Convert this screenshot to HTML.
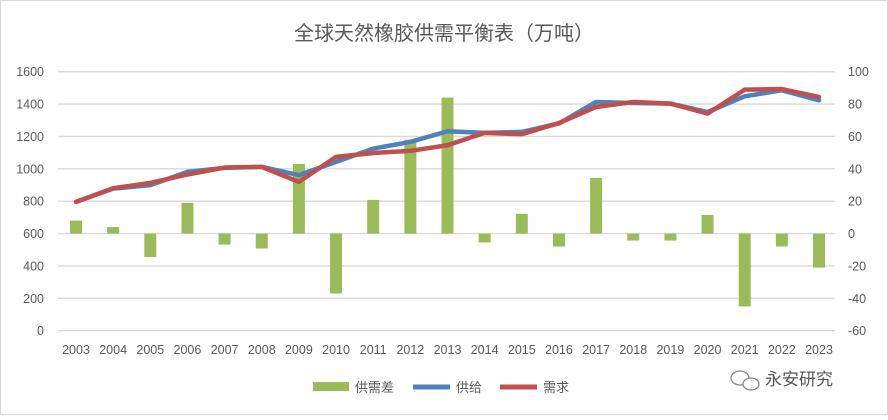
<!DOCTYPE html>
<html><head><meta charset="utf-8"><style>
html,body{margin:0;padding:0;background:#fff;}
svg text{font-family:"Liberation Sans","Noto Sans CJK SC",sans-serif;fill:#595959;}
</style></head><body>
<svg id="chart" width="888" height="415" viewBox="0 0 888 415" xmlns="http://www.w3.org/2000/svg">
<rect x="0.5" y="0.5" width="887" height="414" fill="#fff" stroke="#d9d9d9"/>
<text x="444" y="40" text-anchor="middle" font-size="20" style="font-family:'Liberation Sans','Noto Sans CJK SC',sans-serif">全球天然橡胶供需平衡表（万吨）</text>
<g id="grid"></g><g id="bars"></g><g id="lines"></g><g id="axes"></g>
<g>
<rect x="313" y="382" width="36" height="9" fill="#9bbb59"/>
<text x="355" y="392" font-size="13">供需差</text>
<line x1="413" y1="387" x2="450" y2="387" stroke="#4f81bd" stroke-width="5"/>
<text x="456" y="392" font-size="13">供给</text>
<line x1="500" y1="387" x2="537" y2="387" stroke="#c0504d" stroke-width="5"/>
<text x="543" y="392" font-size="13">需求</text>
</g>
<g>
<ellipse cx="740" cy="378" rx="9" ry="7" fill="none" stroke="#888" stroke-width="1.3"/>
<ellipse cx="751" cy="384" rx="8" ry="6" fill="#fff" stroke="#888" stroke-width="1.3"/>
<text x="765" y="385" font-size="17" style="fill:#555">永安研究</text>
</g>
</svg>
<script>
const years=["2003","2004","2005","2006","2007","2008","2009","2010","2011","2012","2013","2014","2015","2016","2017","2018","2019","2020","2021","2022","2023"];
const gap=[8,4,-14.5,19,-6.8,-9.2,43,-37,20.8,58,84,-5.5,12.2,-8,34.4,-4.3,-4.3,11.5,-45,-8,-21];
const supply=[796,878,899,981,1006,1012,961,1043,1125,1166,1232,1222,1228,1280,1413,1407,1403,1351,1448,1485,1423];
const demand=[796,880,913,965,1008,1012,919,1074,1098,1111,1146,1222,1214,1283,1382,1413,1403,1341,1489,1493,1444];
const leftTicks=[0,200,400,600,800,1000,1200,1400,1600];
const rightTicks=[-60,-40,-20,0,20,40,60,80,100];
const NS="http://www.w3.org/2000/svg";
const X0=76,X1=819,Y0=330.7,Y1=71.7,PL=58,PR=835;
const xS=i=>X0+i*(X1-X0)/(years.length-1);
const yL=v=>Y0-(v-0)/1600*(Y0-Y1);
const yR=v=>Y0-(v+60)/160*(Y0-Y1);
function mk(tag,attrs,parent){const e=document.createElementNS(NS,tag);for(const k in attrs)e.setAttribute(k,attrs[k]);parent.appendChild(e);return e;}
const grid=document.getElementById('grid'),axes=document.getElementById('axes'),bars=document.getElementById('bars'),lines=document.getElementById('lines');
leftTicks.forEach(t=>{
  const l=mk('line',{x1:PL,x2:PR,y1:yL(t),y2:yL(t),stroke:'#d9d9d9','stroke-width':1.3},grid);
  
  
  const tx=mk('text',{x:44,y:yL(t)+4.5,'text-anchor':'end','font-size':12.5},axes);
  tx.textContent=t;
  
  
});
rightTicks.forEach(t=>{
  const tx=mk('text',{x:848,y:yR(t)+4.5,'text-anchor':'start','font-size':12.5},axes);
  tx.textContent=t;
  
  
});
years.forEach((y,i)=>{
  const tx=mk('text',{x:xS(i),y:354,'text-anchor':'middle','font-size':12.5},axes);
  tx.textContent=y;
  
  
});
gap.forEach((v,i)=>{
  const a=yR(0),b=yR(v);
  const r=mk('rect',{x:xS(i)-6,y:Math.min(a,b),width:12,height:Math.abs(a-b),fill:'#9bbb59'},bars);
  
  
});
function line(arr,color,name){
  const p=mk('polyline',{points:arr.map((v,i)=>xS(i)+','+yL(v)).join(' '),fill:'none',stroke:color,'stroke-width':4.5,'stroke-linejoin':'round','stroke-linecap':'round'},lines);
  
  
}
line(supply,'#4f81bd','supply-line');
line(demand,'#c0504d','demand-line');
</script>
</body></html>
